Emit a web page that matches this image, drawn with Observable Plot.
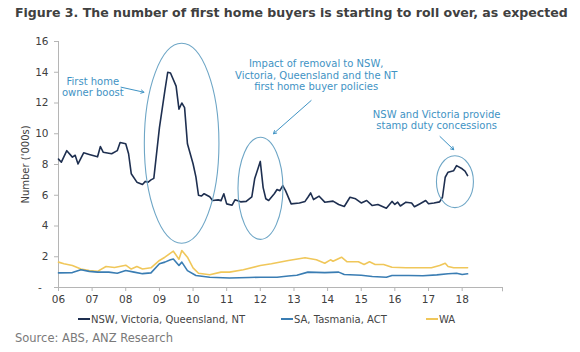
<!DOCTYPE html>
<html><head><meta charset="utf-8">
<script src="https://cdn.jsdelivr.net/npm/d3@7"></script>
<script src="https://cdn.jsdelivr.net/npm/@observablehq/plot@0.6"></script>
<style>
body{margin:0;background:#fff;font-family:"DejaVu Sans",Verdana,sans-serif;}
#wrap{position:relative;width:580px;height:352px;overflow:hidden;background:#fff}
#title{position:absolute;left:15px;top:5px;font-weight:bold;color:#404040;font-size:13px;white-space:nowrap;}
#chart{position:absolute;left:0;top:28px;}
.leg{position:absolute;top:312px;height:14px;font-size:10px;color:#444;white-space:nowrap;display:flex;align-items:center}
.sw{display:inline-block;width:12px;height:2px;margin-right:1px}
#source{position:absolute;left:15px;top:331px;font-size:11.4px;color:#7a7a7a;white-space:nowrap}
</style>
</head><body>
<div id="wrap">
  <div id="title">Figure 3. The number of first home buyers is starting to roll over, as expected</div>
  <div id="chart"></div>
  <div id="legend"></div>
  <div id="source">Source: ABS, ANZ Research</div>
</div>
<script>
// ---- data ----
const seriesNames = ["NSW, Victoria, Queensland, NT", "SA, Tasmania, ACT", "WA"];
const seriesColors = ["#1e2f50", "#3a7db3", "#f0c75a"];

const nswDates = ["2006-01","2006-02","2006-04","2006-06","2006-07","2006-08","2006-10","2006-12","2007-03","2007-04","2007-05","2007-08","2007-10","2007-11","2008-01","2008-02","2008-03","2008-05","2008-07","2008-08","2008-09","2008-10","2008-11","2009-01","2009-03","2009-04","2009-05","2009-07","2009-08","2009-09","2009-10","2009-11","2010-01","2010-02","2010-03","2010-04","2010-05","2010-07","2010-08","2010-10","2010-11","2010-12","2011-01","2011-03","2011-04","2011-06","2011-08","2011-10","2011-11","2012-01","2012-02","2012-03","2012-04","2012-06","2012-07","2012-08","2012-09","2012-10","2012-12","2013-03","2013-05","2013-06","2013-07","2013-08","2013-10","2013-12","2014-03","2014-05","2014-07","2014-09","2014-11","2015-01","2015-03","2015-05","2015-07","2015-10","2015-12","2016-01","2016-02","2016-03","2016-05","2016-07","2016-08","2016-10","2016-12","2017-01","2017-03","2017-05","2017-06","2017-07","2017-08","2017-10","2017-11","2018-01","2018-02","2018-03"];
const nswValues = [8.35,8.15,8.9,8.48,8.6,8.04,8.76,8.65,8.5,9.17,8.8,8.7,8.9,9.43,9.35,8.7,7.4,6.85,6.7,6.9,6.85,7.0,7.1,10.4,12.8,14.0,13.95,13.1,11.6,12.0,11.7,9.35,8.05,7.2,6.0,5.95,6.1,5.9,5.66,5.7,5.65,6.1,5.44,5.35,5.7,5.57,5.6,5.9,7.07,8.2,6.5,5.77,5.66,6.1,6.37,6.3,6.63,6.3,5.44,5.5,5.6,5.87,6.15,5.72,5.94,5.55,5.62,5.4,5.27,5.87,5.77,5.5,5.66,5.33,5.4,5.16,5.6,5.4,5.55,5.3,5.55,5.5,5.25,5.45,5.66,5.45,5.5,5.57,5.87,7.17,7.5,7.6,7.93,7.72,7.57,7.28];

const saDates = ["2006-01","2006-06","2006-09","2006-12","2007-03","2007-07","2007-10","2008-01","2008-04","2008-07","2008-10","2009-01","2009-03","2009-05","2009-06","2009-08","2009-09","2009-11","2010-02","2010-07","2011-02","2011-09","2012-01","2012-07","2012-11","2013-02","2013-06","2013-12","2014-05","2014-07","2015-01","2015-05","2015-10","2015-12","2016-06","2016-11","2017-04","2017-08","2017-11","2018-01","2018-03"];
const saValues = [0.95,0.97,1.15,1.05,1.0,1.0,0.93,1.1,1.0,0.9,0.95,1.54,1.65,1.8,1.85,1.43,1.65,1.1,0.78,0.67,0.62,0.65,0.67,0.67,0.75,0.8,1.0,0.97,1.0,0.85,0.8,0.72,0.67,0.78,0.78,0.76,0.82,0.89,0.93,0.85,0.89];

const waDates = ["2006-01","2006-03","2006-06","2006-09","2006-12","2007-03","2007-06","2007-09","2008-01","2008-03","2008-05","2008-07","2008-10","2009-01","2009-03","2009-05","2009-06","2009-08","2009-09","2009-11","2010-01","2010-03","2010-07","2010-11","2011-02","2011-07","2012-01","2012-05","2012-11","2013-05","2013-09","2013-12","2014-02","2014-03","2014-06","2014-08","2014-12","2015-02","2015-04","2015-06","2015-09","2015-12","2016-05","2016-09","2017-02","2017-05","2017-07","2017-08","2017-10","2018-03"];
const waValues = [1.65,1.55,1.43,1.2,1.1,1.05,1.37,1.3,1.45,1.2,1.37,1.2,1.28,1.76,1.97,2.23,2.36,1.84,2.4,1.97,1.28,0.93,0.83,1.0,1.0,1.15,1.43,1.54,1.76,1.93,1.8,1.58,1.8,1.71,1.97,1.67,1.67,1.5,1.67,1.5,1.5,1.32,1.28,1.28,1.28,1.43,1.58,1.37,1.28,1.28];

const yTicks = [0,2,4,6,8,10,12,14,16];
const xTickYears = [2006,2007,2008,2009,2010,2011,2012,2013,2014,2015,2016,2017,2018];

// annotations (decimal years / values)
const annTexts = ["First home\nowner boost", "Impact of removal to NSW,\nVictoria, Queensland and the NT\nfirst home buyer policies", "NSW and Victoria provide\nstamp duty concessions"];
const annTextX = [2007.02, 2013.66, 2017.24];
const annTextY = [13.03, 13.82, 10.91];
const arrowX1 = [2007.86, 2013.51, 2017.34];
const arrowY1 = [13.03, 12.16, 9.82];
const arrowX2 = [2008.54, 2012.39, 2017.75];
const arrowY2 = [12.70, 10.0, 8.96];
const ellCx = [2009.675, 2012.02, 2017.8];
const ellCy = [9.35, 6.42, 6.85];
const ellRx = [1.11, 0.667, 0.55];
const ellRy = [6.5, 3.32, 1.69];

// ---- build ----
const parse = d3.utcParse("%Y-%m");
const dec = v => { const yr = Math.floor(v); const s = Date.UTC(yr,0,1), e = Date.UTC(yr+1,0,1); return new Date(s + (v-yr)*(e-s)); };
const mk = (dates, vals, name) => dates.map((d,i) => ({date: parse(d), value: vals[i], series: name}));
const allSeries = [mk(nswDates,nswValues,seriesNames[0]), mk(saDates,saValues,seriesNames[1]), mk(waDates,waValues,seriesNames[2])];
const anns = annTexts.map((t,i)=>({t, x: dec(annTextX[i]), y: annTextY[i]}));
const arrows = arrowX1.map((v,i)=>({x1: dec(v), y1: arrowY1[i], x2: dec(arrowX2[i]), y2: arrowY2[i]}));

const annColor = "#3f93c4";
const axisColor = "#b5b5b5";
const xStart = new Date(Date.UTC(2006,0,1)), xEnd = dec(2019.2);

const ellipseMark = (index, scales) => {
  const g = d3.create("svg:g").attr("fill","none").attr("stroke","#6ea6c6").attr("stroke-width",1.1);
  ellCx.forEach((cx,i) => {
    const px = scales.x(dec(cx)), py = scales.y(ellCy[i]);
    const rx = scales.x(dec(cx+ellRx[i])) - px;
    const ry = scales.y(ellCy[i]-ellRy[i]) - py;
    g.append("ellipse").attr("cx",px).attr("cy",py).attr("rx",rx).attr("ry",ry);
  });
  return g.node();
};

const chart = Plot.plot({
  width: 580, height: 281,
  marginLeft: 58, marginRight: 78, marginTop: 13, marginBottom: 22,
  style: {fontFamily: "'DejaVu Sans', Verdana, sans-serif", fontSize: "10.5px", color: "#404040", background: "#fff"},
  x: {type: "utc", domain: [xStart, xEnd]},
  y: {domain: [0,16]},
  marks: [
    Plot.ruleY([0], {stroke: axisColor}),
    Plot.ruleX([xStart], {stroke: axisColor}),
    Plot.ruleX([xEnd], {y1: 0, y2: -0.28, stroke: axisColor}),
    Plot.axisX({ticks: xTickYears.map(y=>new Date(Date.UTC(y,0,1))), tickFormat: d3.utcFormat("%y"), tickSize: 4, tickPadding: 4, stroke: axisColor, fill: "#404040", label: null}),
    Plot.axisY({ticks: yTicks, tickFormat: d => d === 0 ? "-\u2007" : String(d), tickSize: 4, tickPadding: 6, stroke: axisColor, fill: "#404040", label: null}),
    Plot.text(["Number ('000s)"], {x: xStart, y: 8, dx: -33, rotate: -90, fontSize: 10, fill: "#404040", frameAnchor: "middle"}),
    Plot.line(allSeries[2], {x: "date", y: "value", stroke: seriesColors[2], strokeWidth: 1.6}),
    Plot.line(allSeries[1], {x: "date", y: "value", stroke: seriesColors[1], strokeWidth: 1.6}),
    Plot.line(allSeries[0], {x: "date", y: "value", stroke: seriesColors[0], strokeWidth: 1.6}),
    ellipseMark,
    Plot.arrow(arrows, {x1: "x1", y1: "y1", x2: "x2", y2: "y2", stroke: annColor, strokeWidth: 1, headLength: 5}),
    Plot.text(anns, {x: "x", y: "y", text: "t", fill: annColor, fontSize: 10, lineHeight: 1.13})
  ]
});
document.getElementById("chart").appendChild(chart);

// legend
const legPos = [78, 281, 426];
const legend = document.getElementById("legend");
seriesNames.forEach((n,i) => {
  const d = document.createElement("div");
  d.className = "leg";
  d.style.left = legPos[i] + "px";
  d.innerHTML = `<span class="sw" style="background:${seriesColors[i]}"></span><span>${n}</span>`;
  legend.appendChild(d);
});

// fit title width
const fit = (el, target) => { const w = el.getBoundingClientRect().width; const fs = parseFloat(getComputedStyle(el).fontSize); el.style.fontSize = (fs*target/w) + "px"; };
fit(document.getElementById("title"), 553);
fit(document.getElementById("source"), 158);
</script>
</body></html>
